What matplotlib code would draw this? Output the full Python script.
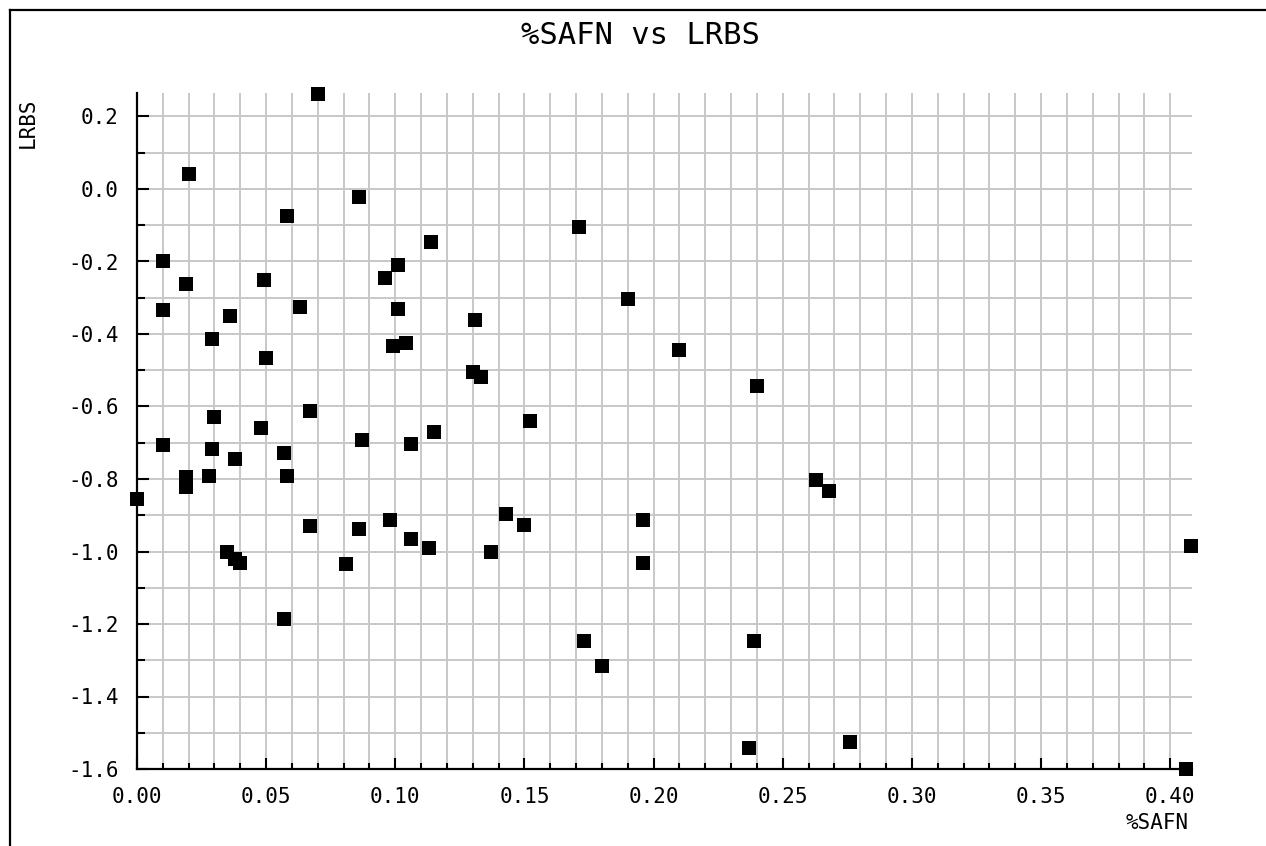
import matplotlib
matplotlib.use("Agg")
import matplotlib.pyplot as plt
from matplotlib.ticker import MultipleLocator, FormatStrFormatter
from matplotlib.lines import Line2D

# %SAFN (x) and LRBS (y) observations
safn = [0.070, 0.020, 0.086, 0.058, 0.010, 0.019, 0.049, 0.010, 0.036, 0.029,
        0.050, 0.063, 0.114, 0.101, 0.096, 0.101, 0.099, 0.104, 0.030, 0.048,
        0.067, 0.010, 0.029, 0.038, 0.057, 0.087, 0.106, 0.115, 0.019, 0.019,
        0.028, 0.058, 0.000, 0.067, 0.086, 0.098, 0.106, 0.113, 0.035, 0.038,
        0.040, 0.081, 0.057, 0.171, 0.190, 0.131, 0.130, 0.133, 0.152, 0.143,
        0.150, 0.137, 0.196, 0.196, 0.173, 0.180, 0.210, 0.240, 0.239, 0.237,
        0.276, 0.263, 0.268, 0.408, 0.406]
lrbs = [0.262, 0.041, -0.023, -0.075, -0.199, -0.262, -0.251, -0.333, -0.350, -0.415,
        -0.467, -0.326, -0.146, -0.210, -0.245, -0.332, -0.432, -0.426, -0.630, -0.658,
        -0.612, -0.705, -0.716, -0.746, -0.727, -0.693, -0.704, -0.669, -0.794, -0.821,
        -0.792, -0.793, -0.856, -0.931, -0.938, -0.914, -0.966, -0.989, -1.001, -1.021,
        -1.031, -1.035, -1.187, -0.105, -0.303, -0.361, -0.506, -0.519, -0.641, -0.897,
        -0.926, -1.002, -0.914, -1.031, -1.246, -1.316, -0.443, -0.543, -1.246, -1.543,
        -1.525, -0.802, -0.832, -0.984, -1.600]

title = "%SAFN vs LRBS"
x_label = "%SAFN"
y_label = "LRBS"

FONT = "DejaVu Sans Mono"
W, H = 1266, 846

fig = plt.figure(figsize=(W / 100, H / 100), dpi=100)
ax = fig.add_axes([137 / W, 1 - 769 / H, (1192 - 137) / W, (769 - 93.3) / H])

ax.scatter(safn, lrbs, marker="s", s=100, color="black", linewidths=0,
           clip_on=False, zorder=5)

ax.set_xlim(0.0, 0.4084)
ax.set_ylim(-1.6, 0.264)

ax.xaxis.set_major_locator(MultipleLocator(0.05))
ax.xaxis.set_minor_locator(MultipleLocator(0.01))
ax.yaxis.set_major_locator(MultipleLocator(0.2))
ax.yaxis.set_minor_locator(MultipleLocator(0.1))
ax.xaxis.set_major_formatter(FormatStrFormatter("%.2f"))
ax.yaxis.set_major_formatter(FormatStrFormatter("%.1f"))

ax.grid(True, which="both", color="#c8c8c8", linewidth=1.4)
ax.set_axisbelow(True)

for side in ("top", "right"):
    ax.spines[side].set_visible(False)
for side in ("left", "bottom"):
    ax.spines[side].set_linewidth(1.6)
    ax.spines[side].set_color("black")

ax.tick_params(axis="both", which="both", direction="in", width=1.5,
               color="black", labelsize=15)
ax.tick_params(axis="y", which="major", length=8.5, pad=13)
ax.tick_params(axis="y", which="minor", length=6)
ax.tick_params(axis="x", which="major", length=8, pad=13)
ax.tick_params(axis="x", which="minor", length=4.5)
for lab in ax.get_xticklabels() + ax.get_yticklabels():
    lab.set_family(FONT)

fig.text(640 / W, 1 - 36 / H, title, ha="center", va="center",
         family=FONT, fontsize=22)
fig.text(28 / W, 1 - 97 / H, y_label, ha="center", va="top", rotation=90,
         family=FONT, fontsize=15)
fig.text(1189 / W, 1 - 823 / H, x_label, ha="right", va="center",
         family=FONT, fontsize=15)

# outer frame (top and left edges)
fig.add_artist(Line2D([10 / W, 1.0], [1 - 10 / H, 1 - 10 / H],
                      transform=fig.transFigure, color="black", linewidth=1.6))
fig.add_artist(Line2D([10 / W, 10 / W], [0.0, 1 - 10 / H],
                      transform=fig.transFigure, color="black", linewidth=1.6))

fig.savefig("out.png", dpi=100, facecolor="white")
